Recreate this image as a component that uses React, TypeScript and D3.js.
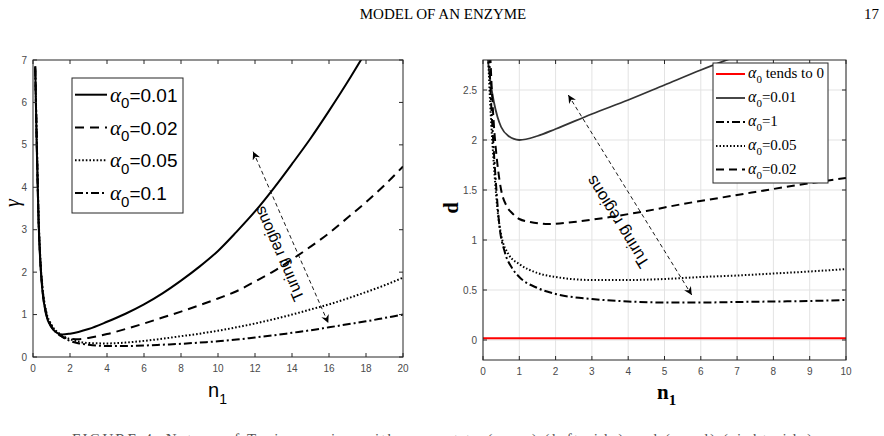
import * as d3 from "d3";

type Pt = [number, number];

// ---- left panel: gamma against n1 ----
const gammaA001: Pt[] = [[0.12,6.85],[0.2,5.0],[0.3,3.2],[0.4,2.2],[0.5,1.6],[0.7,1.02],[1.0,0.7],[1.3,0.57],[1.6,0.53],[2,0.55],[3,0.66],[4,0.83],[5,1.02],[6,1.24],[7,1.5],[8,1.8],[9,2.13],[10,2.5],[11,2.95],[12,3.43],[13,3.97],[14,4.55],[15,5.15],[16,5.8],[17,6.48],[18,7.2]];
const gammaA002: Pt[] = [[0.12,6.8],[0.2,5.1],[0.3,3.25],[0.4,2.25],[0.5,1.65],[0.7,1.05],[1.0,0.72],[1.5,0.5],[2,0.43],[2.5,0.42],[3,0.45],[4,0.54],[5,0.66],[6,0.79],[7,0.93],[8,1.07],[9,1.22],[10,1.38],[11,1.55],[12,1.78],[13,2.02],[14,2.3],[15,2.6],[16,2.92],[17,3.28],[18,3.65],[19,4.05],[20,4.49]];
const gammaA005: Pt[] = [[0.12,6.75],[0.2,5.2],[0.3,3.35],[0.4,2.3],[0.5,1.7],[0.7,1.1],[1.0,0.76],[1.5,0.53],[2,0.42],[2.5,0.36],[3,0.33],[4,0.32],[5,0.34],[6,0.38],[7,0.43],[8,0.49],[9,0.55],[10,0.62],[11,0.7],[12,0.79],[13,0.89],[14,1.0],[15,1.12],[16,1.24],[17,1.38],[18,1.53],[19,1.69],[20,1.87]];
const gammaA01: Pt[] = [[0.12,6.85],[0.2,5.2],[0.3,3.3],[0.4,2.25],[0.5,1.65],[0.7,1.05],[1.0,0.72],[1.5,0.5],[2,0.38],[2.5,0.32],[3,0.29],[4,0.26],[5,0.26],[6,0.27],[7,0.29],[8,0.31],[9,0.34],[10,0.37],[11,0.41],[12,0.46],[13,0.51],[14,0.57],[15,0.63],[16,0.7],[17,0.77],[18,0.84],[19,0.92],[20,1.0]];
const leftLabels = ["=0.01", "=0.02", "=0.05", "=0.1"];
const leftXTicks = [0, 2, 4, 6, 8, 10, 12, 14, 16, 18, 20];
const leftYTicks = [0, 1, 2, 3, 4, 5, 6, 7];
const leftArrow: Pt[] = [[11.9, 4.84], [15.96, 0.8]];
const leftNote: Pt = [13.3, 2.43];

// ---- right panel: d against n1 ----
const dZero: Pt[] = [[0, 0.017], [10, 0.017]];
const dA001: Pt[] = [[0.12,2.85],[0.2,2.6],[0.3,2.38],[0.4,2.23],[0.5,2.13],[0.7,2.04],[1.0,2.0],[1.5,2.04],[2,2.11],[3,2.26],[4,2.4],[5,2.55],[6,2.7],[7,2.84]];
const dA1: Pt[] = [[0.17,2.85],[0.22,2.4],[0.28,2.0],[0.35,1.6],[0.45,1.15],[0.6,0.88],[0.8,0.72],[1.0,0.63],[1.5,0.52],[2,0.46],[3,0.41],[4,0.385],[5,0.375],[6,0.375],[7,0.38],[8,0.385],[9,0.39],[10,0.4]];
const dA005: Pt[] = [[0.14,2.85],[0.2,2.35],[0.3,1.75],[0.4,1.3],[0.5,1.05],[0.7,0.86],[1.0,0.76],[1.5,0.67],[2,0.63],[3,0.6],[4,0.6],[5,0.61],[6,0.63],[7,0.645],[8,0.665],[9,0.685],[10,0.71]];
const dA002: Pt[] = [[0.2,2.85],[0.25,2.45],[0.3,2.15],[0.4,1.75],[0.5,1.5],[0.65,1.34],[0.8,1.27],[1.0,1.21],[1.3,1.18],[1.8,1.16],[2.5,1.18],[3.5,1.23],[4.5,1.29],[5.5,1.36],[6.5,1.42],[7.5,1.48],[8.5,1.54],[10,1.62]];
const rightLabels = [" tends to 0", "=0.01", "=1", "=0.05", "=0.02"];
const rightXTicks = [0, 1, 2, 3, 4, 5, 6, 7, 8, 9, 10];
const rightYTicks = [0, 0.5, 1, 1.5, 2, 2.5];
const rightArrow: Pt[] = [[2.35, 2.45], [5.75, 0.45]];
const rightNote: Pt = [3.7, 1.18];

const SANS = "'Liberation Sans', Arial, Helvetica, sans-serif";
const SERIF = "'Liberation Serif', 'Times New Roman', serif";
const AX = "#262626";
const TICK = "#4a4a4a";

const lx = d3.scaleLinear().domain([0, 20]).range([33, 403]);
const ly = d3.scaleLinear().domain([0, 7]).range([357, 60]);
const rx = d3.scaleLinear().domain([0, 10]).range([483, 846]);
const ry = d3.scaleLinear().domain([-0.2, 2.8]).range([360, 60]);

const mkLine = (x: d3.ScaleLinear<number, number>, y: d3.ScaleLinear<number, number>) =>
  d3.line<Pt>().x((d) => x(d[0])).y((d) => y(d[1])).curve(d3.curveMonotoneX);

const leftLine = mkLine(lx, ly);
const rightLine = mkLine(rx, ry);

const leftSeries = [
  { data: gammaA001, dash: "none" },
  { data: gammaA002, dash: "9,6" },
  { data: gammaA005, dash: "1.6,2" },
  { data: gammaA01, dash: "8,3,2,3" },
];

const rightSeries = [
  { data: dZero, dash: "none", color: "#ff0000", w: 2 },
  { data: dA001, dash: "none", color: "#333333", w: 1.8 },
  { data: dA1, dash: "8,3,2,3", color: "#000", w: 2 },
  { data: dA005, dash: "1.5,2", color: "#000", w: 2 },
  { data: dA002, dash: "8,5", color: "#000", w: 2 },
];

function Grid({ x, y, xt, yt }: {
  x: d3.ScaleLinear<number, number>; y: d3.ScaleLinear<number, number>;
  xt: number[]; yt: number[];
}) {
  const [x0, x1] = x.range();
  const [y0, y1] = y.range();
  return (
    <g>
      {xt.map((t) => (
        <line key={"gx" + t} x1={x(t)} x2={x(t)} y1={y0} y2={y1} stroke="#e3e3e3" strokeWidth={1} />
      ))}
      {yt.map((t) => (
        <line key={"gy" + t} x1={x0} x2={x1} y1={y(t)} y2={y(t)} stroke="#e3e3e3" strokeWidth={1} />
      ))}
    </g>
  );
}

function Axes({ x, y, xt, yt }: {
  x: d3.ScaleLinear<number, number>; y: d3.ScaleLinear<number, number>;
  xt: number[]; yt: number[];
}) {
  const [x0, x1] = x.range();
  const [y0, y1] = y.range();
  const tl = 4;
  return (
    <g>
      <rect x={x0} y={y1} width={x1 - x0} height={y0 - y1} fill="none" stroke={AX} strokeWidth={1} />
      {xt.map((t) => (
        <g key={"xt" + t}>
          <line x1={x(t)} x2={x(t)} y1={y0} y2={y0 - tl} stroke={AX} />
          <line x1={x(t)} x2={x(t)} y1={y1} y2={y1 + tl} stroke={AX} />
          <text x={x(t)} y={y0 + 15} textAnchor="middle" fontFamily={SANS} fontSize={10} fill={TICK}>{t}</text>
        </g>
      ))}
      {yt.map((t) => (
        <g key={"yt" + t}>
          <line x1={x0} x2={x0 + tl} y1={y(t)} y2={y(t)} stroke={AX} />
          <line x1={x1} x2={x1 - tl} y1={y(t)} y2={y(t)} stroke={AX} />
          <text x={x0 - 6} y={y(t) + 3.5} textAnchor="end" fontFamily={SANS} fontSize={10} fill={TICK}>{t}</text>
        </g>
      ))}
    </g>
  );
}

function Note({ x, y, arrow, at, size }: {
  x: d3.ScaleLinear<number, number>; y: d3.ScaleLinear<number, number>;
  arrow: Pt[]; at: Pt; size: number;
}) {
  const [a, b] = arrow.map((p) => [x(p[0]), y(p[1])]);
  const ang = (Math.atan2(b[1] - a[1], b[0] - a[0]) * 180) / Math.PI - 180;
  const cx = x(at[0]);
  const cy = y(at[1]);
  return (
    <g>
      <line x1={a[0]} y1={a[1]} x2={b[0]} y2={b[1]} stroke="#000" strokeWidth={0.9}
        strokeDasharray="4,3" markerStart="url(#head)" markerEnd="url(#head)" />
      <text x={cx} y={cy} transform={`rotate(${ang},${cx},${cy})`} textAnchor="middle"
        dominantBaseline="central" fontFamily={SANS} fontSize={size} fill="#000">Turing regions</text>
    </g>
  );
}

export default function App() {
  const lRows = [101.7, 134.5, 167.3, 200];
  const rRows = [78, 102, 126, 150, 173.5];
  return (
    <svg width={884} height={436} style={{ position: "absolute", left: 0, top: 0, background: "#fff" }}>
      <defs>
        <clipPath id="clipL"><rect x={33} y={60} width={370} height={297} /></clipPath>
        <clipPath id="clipR"><rect x={483} y={60} width={363} height={300} /></clipPath>
        <marker id="head" viewBox="0 0 10 10" refX={10} refY={5} markerWidth={9} markerHeight={8}
          markerUnits="userSpaceOnUse" orient="auto-start-reverse">
          <path d="M0,0 L10,5 L0,10 L3,5 Z" fill="#000" />
        </marker>
      </defs>

      <text x={443} y={19} textAnchor="middle" fontFamily={SERIF} fontSize={15}>MODEL OF AN ENZYME</text>
      <text x={879} y={19} textAnchor="end" fontFamily={SERIF} fontSize={15}>17</text>

      {/* left panel */}
      <g clipPath="url(#clipL)">
        {leftSeries.map((s, i) => (
          <path key={i} d={leftLine(s.data) ?? ""} fill="none" stroke="#000" strokeWidth={2}
            strokeDasharray={s.dash} />
        ))}
      </g>
      <Axes x={lx} y={ly} xt={leftXTicks} yt={leftYTicks} />
      <Note x={lx} y={ly} arrow={leftArrow} at={leftNote} size={16} />
      <rect x={72} y={78} width={111} height={135} fill="#fff" stroke={AX} strokeWidth={1} />
      {leftLabels.map((lab, i) => (
        <g key={lab}>
          <line x1={75} x2={107} y1={lRows[i] - 7} y2={lRows[i] - 7} stroke="#000" strokeWidth={2}
            strokeDasharray={leftSeries[i].dash} />
          <text x={110} y={lRows[i]} fontFamily={SANS} fontSize={19} fill="#000">
            <tspan fontFamily={SERIF} fontStyle="italic" fontSize={21}>α</tspan>
            <tspan dy={6.5} fontSize={15}>0</tspan>
            <tspan dy={-6.5}>{lab}</tspan>
          </text>
        </g>
      ))}
      <text transform="translate(19,203) rotate(-90)" textAnchor="middle" fontFamily={SERIF}
        fontStyle="italic" fontSize={20}>γ</text>
      <text x={208} y={397} fontFamily={SANS} fontSize={20}>n<tspan dy={7} fontSize={14}>1</tspan></text>

      {/* right panel */}
      <Grid x={rx} y={ry} xt={rightXTicks} yt={rightYTicks} />
      <g clipPath="url(#clipR)">
        {rightSeries.map((s, i) => (
          <path key={i} d={rightLine(s.data) ?? ""} fill="none" stroke={s.color} strokeWidth={s.w}
            strokeDasharray={s.dash} />
        ))}
      </g>
      <Axes x={rx} y={ry} xt={rightXTicks} yt={rightYTicks} />
      <Note x={rx} y={ry} arrow={rightArrow} at={rightNote} size={16.5} />
      <rect x={713} y={63} width={115} height={120} fill="#fff" stroke={AX} strokeWidth={1} />
      {rightLabels.map((lab, i) => (
        <g key={lab}>
          <line x1={716} x2={745} y1={rRows[i] - 4} y2={rRows[i] - 4} stroke={rightSeries[i].color}
            strokeWidth={rightSeries[i].w} strokeDasharray={rightSeries[i].dash} />
          <text x={748} y={rRows[i]} fontFamily={SERIF} fontSize={15} fill="#000">
            <tspan fontStyle="italic" fontSize={16}>α</tspan>
            <tspan dy={5} fontSize={11}>0</tspan>
            <tspan dy={-5}>{lab}</tspan>
          </text>
        </g>
      ))}
      <text transform="translate(458,208) rotate(-90)" textAnchor="middle" fontFamily={SERIF}
        fontWeight="bold" fontSize={20}>d</text>
      <text x={657} y={399} fontFamily={SERIF} fontWeight="bold" fontSize={21}>n<tspan dy={6} fontSize={15}>1</tspan></text>

      <text x={72} y={444} fontFamily={SERIF} fontSize={15} fill="#555" textLength={740}>
        FIGURE 4. Nature of Turing region with respect to (n₁, γ) (left side) and (n₁, d) (right side)
      </text>
    </svg>
  );
}
